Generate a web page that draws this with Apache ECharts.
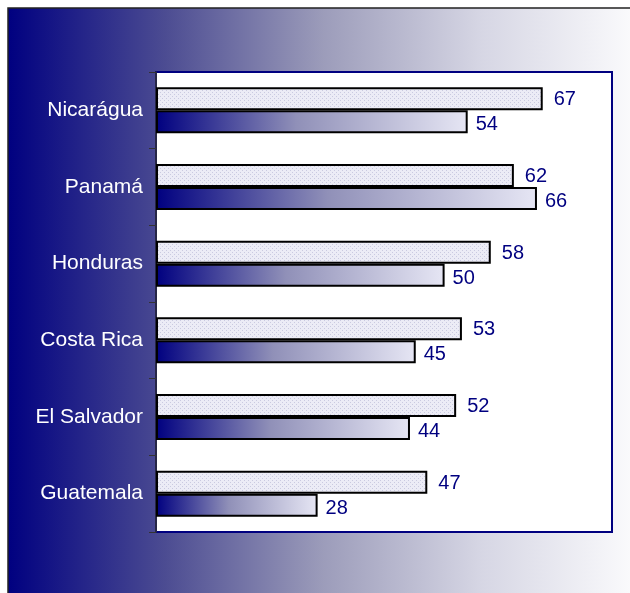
<!DOCTYPE html>
<html><head><meta charset="utf-8">
<script src="https://cdn.jsdelivr.net/npm/echarts@6/dist/echarts.min.js"></script>
<style>html,body{margin:0;padding:0;background:#fff}#c{width:630px;height:593px}</style>
</head><body><div id="c"></div>
<script>
var categories = ['Nicarágua', 'Panamá', 'Honduras', 'Costa Rica', 'El Salvador', 'Guatemala'];
var seriesA = [67, 62, 58, 53, 52, 47];
var seriesB = [54, 66, 50, 45, 44, 28];

var pc = document.createElement('canvas');
pc.width = 4; pc.height = 4;
var g = pc.getContext('2d');
g.fillStyle = '#ececf6'; g.fillRect(0, 0, 4, 4);
g.fillStyle = '#cacae0';
g.fillRect(0, 0, 1, 1); g.fillRect(2, 2, 1, 1);

var chart = echarts.init(document.getElementById('c'), null, {renderer: 'canvas'});
chart.setOption({
  animation: false,
  graphic: [{
    type: 'rect', z: -10, silent: true,
    shape: {x: 8, y: 8, width: 630, height: 600},
    style: {
      fill: new echarts.graphic.LinearGradient(0, 0, 1, 0, [
        {offset: 0, color: '#000080'},
        {offset: 0.25, color: '#4c4c92'},
        {offset: 0.5, color: '#9c9cba'},
        {offset: 0.75, color: '#d6d6e4'},
        {offset: 1, color: '#fcfcfd'}
      ]),
      stroke: '#222', lineWidth: 1.5
    }
  }],
  grid: {left: 156, top: 72, width: 456, height: 460, show: true,
    backgroundColor: '#ffffff', borderColor: '#000080', borderWidth: 2},
  xAxis: {type: 'value', min: 0, max: 79, show: false},
  yAxis: {
    type: 'category', data: categories, inverse: true,
    axisLine: {show: true, lineStyle: {color: '#333', width: 1.5}},
    axisTick: {show: true, length: 7, lineStyle: {color: '#333'}},
    axisLabel: {color: '#ffffff', fontSize: 21, fontFamily: 'Liberation Sans, Arial, sans-serif', margin: 13}
  },
  series: [{
    type: 'bar', data: seriesA, barWidth: 23, barGap: '0%',
    itemStyle: {color: {image: pc, repeat: 'repeat'}, borderColor: '#000', borderWidth: 2},
    label: {show: true, position: 'right', distance: 11, color: '#000080', fontSize: 20,
      fontFamily: 'Liberation Sans, Arial, sans-serif', offset: [0, 1]}
  }, {
    type: 'bar', data: seriesB, barWidth: 23, barGap: '0%',
    itemStyle: {
      color: new echarts.graphic.LinearGradient(0, 0, 1, 0, [
        {offset: 0, color: '#000080'},
        {offset: 0.45, color: '#9090b8'},
        {offset: 1, color: '#e6e6f4'}
      ]),
      borderColor: '#000', borderWidth: 2
    },
    label: {show: true, position: 'right', distance: 8, color: '#000080', fontSize: 20,
      fontFamily: 'Liberation Sans, Arial, sans-serif', offset: [0, 3]}
  }]
});
</script></body></html>
